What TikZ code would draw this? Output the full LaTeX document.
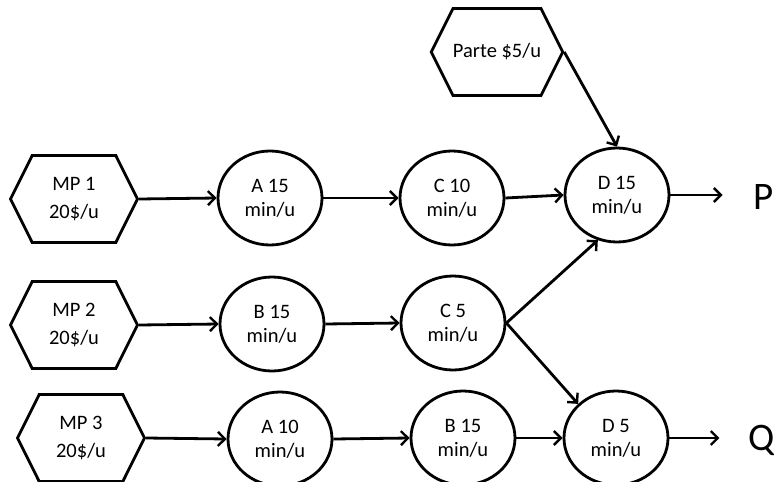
\documentclass[tikz,border=0pt]{standalone}
\usepackage{fontspec}
\setmainfont{Carlito}
\usetikzlibrary{shapes.geometric,shapes.symbols,arrows.meta}

\begin{document}
\begin{tikzpicture}[x=1pt,y=-1pt,line width=2.8pt,
    hexa/.style={draw,shape=signal,signal to=west and east,signal pointer angle=127,
      minimum width=127pt,minimum height=87pt,inner sep=0pt,align=center,
      font=\fontsize{20.5}{28}\selectfont},
    oper/.style={draw,ellipse,minimum width=104pt,minimum height=94pt,inner sep=0pt,
      align=center,font=\fontsize{20.5}{24}\selectfont},
    prod/.style={inner sep=0pt,font=\fontsize{39}{39}\selectfont},
    arr/.style={-{Straight Barb[length=7pt,width=14pt,line width=2.4pt]}}]
  \useasboundingbox (0,0) rectangle (774,482);
  % materias primas
  \node [hexa] (mp1) at (74,199) {MP 1\\20\$/u};
  \node [hexa] (mp2) at (74,325) {MP 2\\20\$/u};
  \node [hexa] (mp3) at (81,438) {MP 3\\20\$/u};
  \node [hexa] (parte) at (497,52) {Parte \$5/u};
  % operaciones
  \node [oper] (a15) at (270,198) {A 15\\min/u};
  \node [oper] (c10) at (452,198) {C 10\\min/u};
  \node [oper] (d15) at (617,195) {D 15\\min/u};
  \node [oper] (b15) at (272,324) {B 15\\min/u};
  \node [oper] (c5) at (453,323) {C 5\\min/u};
  \node [oper] (a10) at (280,439) {A 10\\min/u};
  \node [oper] (b15b) at (463,438) {B 15\\min/u};
  \node [oper] (d5) at (616,438) {D 5\\min/u};
  % productos
  \node [prod] (p) at (764,197) {P};
  \node [prod] (q) at (762,440) {Q};

  \draw [arr] (mp1.east) -- (a15.west);
  \draw [arr] (a15.east) -- (c10.west);
  \draw [arr] (c10.east) -- (d15.west);
  \draw [arr,shorten >=30pt] (d15.east) -- (p.west |- d15.east);
  \draw [arr] (parte.east) -- (d15.north);
  \draw [arr] (mp2.east) -- (b15.west);
  \draw [arr] (b15.east) -- (c5.west);
  \draw [arr] (c5.east) -- (d15.-113);
  \draw [arr] (c5.east) -- (d5.138);
  \draw [arr] (mp3.east) -- (a10.west);
  \draw [arr] (a10.east) -- (b15b.west);
  \draw [arr] (b15b.east) -- (d5.west);
  \draw [arr,shorten >=28pt] (d5.east) -- (q.west |- d5.east);
\end{tikzpicture}
\end{document}
